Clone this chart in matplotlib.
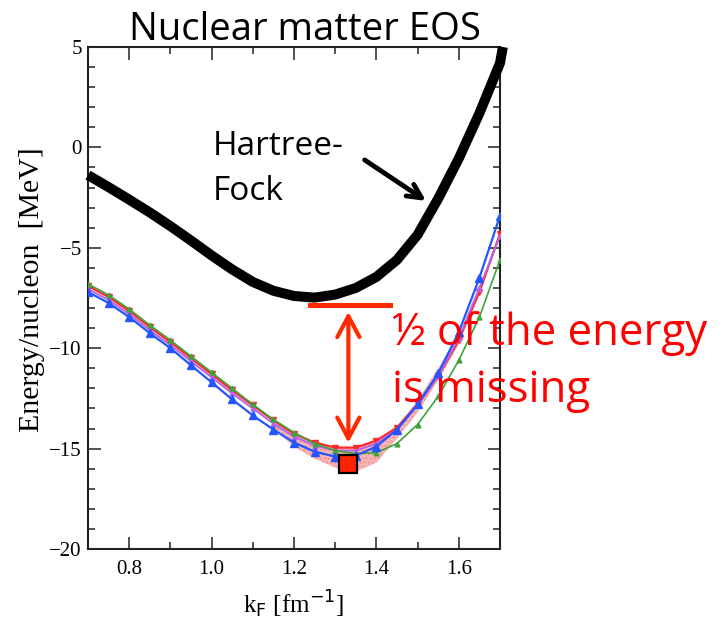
import matplotlib
matplotlib.use("Agg")
import matplotlib.pyplot as plt
from matplotlib.patches import FancyArrowPatch
from matplotlib.ticker import MultipleLocator

# Fermi momentum grid [fm^-1]
kf = [0.70, 0.75, 0.80, 0.85, 0.90, 0.95, 1.00, 1.05, 1.10, 1.15, 1.20,
      1.25, 1.30, 1.35, 1.40, 1.45, 1.50, 1.55, 1.60, 1.65, 1.70]

# Energy per nucleon [MeV] for the correlated calculations
e_red = [-6.90, -7.45, -8.15, -8.95, -9.70, -10.50, -11.30, -12.10, -12.85, -13.60, -14.25,
         -14.70, -14.95, -14.95, -14.60, -13.95, -12.80, -11.40, -9.60, -7.20, -4.30]
e_purple = [-7.05, -7.60, -8.30, -9.10, -9.85, -10.65, -11.45, -12.25, -13.00, -13.75, -14.40,
            -14.85, -15.10, -15.10, -14.75, -14.05, -12.85, -11.40, -9.50, -7.00, -4.40]
e_green = [-6.80, -7.35, -8.05, -8.85, -9.60, -10.40, -11.20, -12.00, -12.80, -13.55, -14.20,
           -14.75, -15.10, -15.25, -15.20, -14.75, -13.80, -12.40, -10.60, -8.45, -5.60]
e_blue = [-7.20, -7.75, -8.45, -9.25, -10.00, -10.85, -11.70, -12.55, -13.35, -14.05, -14.70,
          -15.15, -15.40, -15.35, -14.90, -14.05, -12.80, -11.25, -9.20, -6.50, -3.40]

# Uncertainty band around the saturation region
band_kf = [1.15, 1.20, 1.25, 1.30, 1.35, 1.40, 1.45, 1.50, 1.55, 1.60]
band_hi = [-13.60, -14.25, -14.70, -14.95, -14.95, -14.60, -13.90, -12.60, -11.00, -9.30]
band_lo = [-14.00, -14.90, -15.50, -15.95, -16.15, -15.70, -14.50, -13.20, -11.60, -9.80]

# Hartree-Fock energy per nucleon [MeV]
hf_kf = [0.70, 0.75, 0.80, 0.85, 0.90, 0.95, 1.00, 1.05, 1.10, 1.15, 1.20, 1.25,
         1.30, 1.35, 1.40, 1.45, 1.50, 1.55, 1.60, 1.65, 1.70, 1.707]
hf_e = [-1.38, -1.98, -2.60, -3.24, -3.92, -4.64, -5.38, -6.08, -6.70, -7.14, -7.40, -7.48,
        -7.33, -7.00, -6.45, -5.60, -4.35, -2.55, -0.55, 1.70, 4.20, 5.00]

# Empirical saturation point
sat_kf = 1.33
sat_e = -15.75

x_ticks = [0.8, 1.0, 1.2, 1.4, 1.6]
y_ticks = [-20, -15, -10, -5, 0, 5]

W, H = 724, 623
fig = plt.figure(figsize=(W / 100, H / 100), dpi=100)
ax = fig.add_axes([88 / W, 1 - 549 / H, (500 - 88) / W, (549 - 47) / H])

serif = "Liberation Serif"
plt.rcParams["mathtext.fontset"] = "stix"

ax.fill_between(band_kf, band_lo, band_hi, facecolor="#f6a9a9", edgecolor="#ef8c8c",
                hatch="....", linewidth=0, alpha=0.85, zorder=1)

ax.plot(kf, e_red, color="#ff2a2a", lw=1.6, marker="v", ms=4.5, zorder=3)
ax.plot(kf, e_purple, color="#b565e6", lw=1.4, marker="^", ms=3.5, zorder=3)
ax.plot(kf, e_green, color="#3ea33e", lw=1.2, marker="^", ms=3.5, zorder=3)
ax.plot(kf, e_blue, color="#2456ff", lw=1.6, marker="^", ms=5.5, zorder=4)

ax.plot(hf_kf, hf_e, color="black", lw=7.2, solid_capstyle="butt",
        solid_joinstyle="round", clip_on=False, zorder=5)

ax.plot([sat_kf], [sat_e], marker="s", ms=13, mfc="#ff2200", mec="black", mew=1.6,
        zorder=7)

ax.set_xlim(0.7, 1.7)
ax.set_ylim(-20, 5)
ax.set_xticks(x_ticks)
ax.set_xticklabels([f"{v:.1f}" for v in x_ticks])
ax.set_yticks(y_ticks)
ax.xaxis.set_minor_locator(MultipleLocator(0.1))
ax.yaxis.set_minor_locator(MultipleLocator(1))
ax.tick_params(which="both", direction="in", top=True, right=True, width=1.2,
               colors="#333333", labelcolor="black")
ax.tick_params(which="major", length=9)
ax.tick_params(axis="x", which="major", pad=8)
ax.tick_params(axis="y", which="major", pad=4.5)
ax.tick_params(which="minor", length=5)
for lab in ax.get_xticklabels() + ax.get_yticklabels():
    lab.set_fontfamily(serif)
    lab.set_fontsize(15)
for sp in ax.spines.values():
    sp.set_linewidth(1.5)
    sp.set_color("#222222")

ax.set_ylabel("Energy/nucleon  [MeV]", fontfamily=serif, fontsize=21.5)
ax.yaxis.label.set_verticalalignment("center")
ax.yaxis.set_label_coords(-0.135, 0.516)
ax.set_xlabel(r"k$_\mathrm{F}$ [fm$^{-1}$]", fontfamily=serif, fontsize=18, labelpad=7)

sans = "Open Sans"
fig.text(305 / W, 1 - 40 / H, "Nuclear matter EOS", fontfamily=sans, fontsize=27.5,
         ha="center", va="baseline")

ax.text(1.004, -0.40, "Hartree-", fontfamily=sans, fontsize=24, va="baseline")
ax.text(1.004, -2.64, "Fock", fontfamily=sans, fontsize=24, va="baseline")
ax.add_patch(FancyArrowPatch((1.366, -0.55), (1.526, -2.74),
                             arrowstyle="->,head_length=10,head_width=5",
                             mutation_scale=1, lw=3.5, color="black", zorder=6))

red = "#ff2a00"
ax.plot([1.24, 1.434], [-7.87, -7.87], color=red, lw=3.6, clip_on=False, zorder=6)
ax.add_patch(FancyArrowPatch((1.332, -8.05), (1.332, -14.85),
                             arrowstyle="<->,head_length=15,head_width=8",
                             mutation_scale=1, lw=3.0, color=red, zorder=6))

ax.text(1.439, -9.86, "½ of the energy", fontfamily=sans, fontsize=31.5, color="#ff0000",
        va="baseline", clip_on=False, zorder=8)
ax.text(1.439, -12.70, "is missing", fontfamily=sans, fontsize=31.5, color="#ff0000",
        va="baseline", clip_on=False, zorder=8)

fig.savefig("out.png", dpi=100)
